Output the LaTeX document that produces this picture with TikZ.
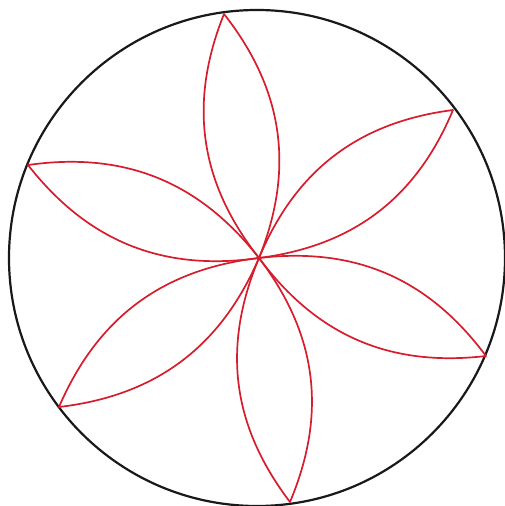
\documentclass[tikz,border=0pt]{standalone}
\usepackage{tikz}
\definecolor{petalred}{RGB}{214,28,45}
\definecolor{rimblack}{RGB}{25,25,25}

\begin{document}
\begin{tikzpicture}[
    x=1pt,y=1pt,
    rim/.style={draw=rimblack,line width=2.2pt},
    petal/.style={draw=petalred,line width=1.7pt,line join=round}
  ]
    \useasboundingbox (-259,-248) rectangle (245,258);
    \coordinate (c) at (0,0);
    % tips on the rim
    \coordinate (t1) at (-35,244);
    \coordinate (t2) at (194,148);
    \coordinate (t3) at (227,-98);
    \coordinate (t4) at (31,-244);
    \coordinate (t5) at (-200,-149);
    \coordinate (t6) at (-231,93);
    \draw[rim] (-2,0) circle (248);
    \foreach \t in {t1,t2,t3,t4,t5,t6}
      \draw[petal] (c) to[bend left=30] (\t) to[bend left=30] (c);
  \end{tikzpicture}
\end{document}
